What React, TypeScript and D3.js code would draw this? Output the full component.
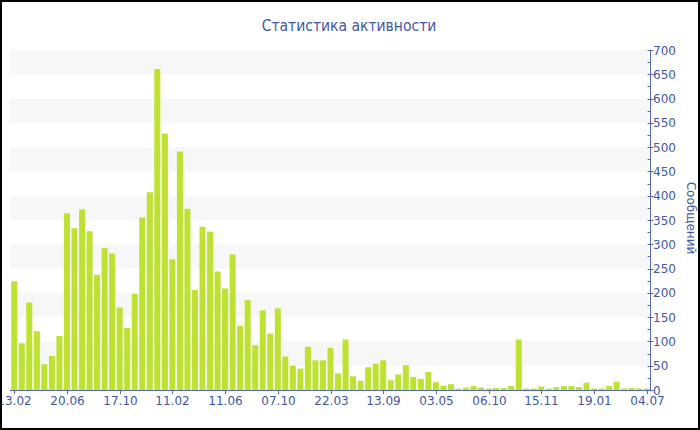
import React from "react";
import * as d3 from "d3";

const title = "Статистика активности";
const yAxisTitle = "Сообщений";

const tickLabels = ["13.02", "20.06", "17.10", "11.02", "11.06", "07.10", "22.03", "13.09", "03.05", "06.10", "15.11", "19.01", "04.07"];

const values = [
  224, 96, 180, 121, 53, 70, 111, 364, 333, 372,
  327, 237, 292, 281, 170, 128, 198, 355, 407, 661,
  528, 269, 491, 373, 206, 336, 326, 244, 209, 279,
  132, 185, 92, 164, 116, 168, 69, 50, 44, 89,
  61, 61, 87, 34, 104, 28, 19, 47, 54, 61,
  20, 32, 51, 27, 23, 37, 16, 9, 12, 3,
  5, 8, 5, 3, 4, 4, 8, 104, 3, 3,
  7, 3, 6, 8, 8, 6, 15, 3, 3, 8,
  17, 3, 4, 3, 3,
];

const categories = values.map((_, i) => i);
const tickEvery = 7;
const yMajorTicks = d3.range(0, 701, 50);
const yMinorTicks = d3.range(25, 700, 50);
const stripes = d3.range(50, 700, 100);

const W = 700;
const H = 430;
const left = 10.5;
const right = 650.5;
const top = 50;
const bottom = 390;

const textColor = "#4157a5";
const axisColor = "#5369b1";
const barColor = "#bde232";

export default function App() {
  const x = d3.scaleBand<number>().domain(categories).range([left, right]).paddingInner(0.2).paddingOuter(0.1);
  const y = d3.scaleLinear().domain([0, 700]).range([bottom, top]);
  const font = "'DejaVu Sans', Verdana, sans-serif";
  const titleFont = "'DejaVu Sans Condensed', 'Liberation Sans', sans-serif";

  return (
    <svg width={W} height={H} style={{ position: "absolute", left: 0, top: 0, display: "block" }}>
      <rect x={0} y={0} width={W} height={H} fill="#fff" />
      {stripes.map((s) => (
        <rect key={s} x={10} y={y(s + 50)} width={638} height={y(s) - y(s + 50)} fill="#f7f7f7" />
      ))}
      {values.map((v, i) => (
        <rect key={i} x={x(i)} y={y(v)} width={x.bandwidth()} height={bottom - y(v)} fill={barColor} />
      ))}
      {/* x axis */}
      <line x1={10} x2={right} y1={bottom + 0.5} y2={bottom + 0.5} stroke={axisColor} strokeWidth={1} />
      {tickLabels.map((t, k) => {
        const cx = Math.round((x(k * tickEvery) as number) + x.bandwidth() / 2) + 0.5;
        return (
          <g key={t + k}>
            <line x1={cx} x2={cx} y1={bottom} y2={bottom + 4} stroke={axisColor} />
            <text x={cx} y={bottom + 15} textAnchor="middle" fontFamily={font} fontSize={12} fill={textColor}>{t}</text>
          </g>
        );
      })}
      {/* y axis right */}
      <line x1={right} x2={right} y1={top} y2={bottom + 1} stroke={axisColor} strokeWidth={1} />
      {yMajorTicks.map((t) => (
        <g key={t}>
          <line x1={right - 3} x2={right + 3} y1={Math.round(y(t)) + 0.5} y2={Math.round(y(t)) + 0.5} stroke={axisColor} />
          <text x={right + 2.5} y={y(t) + 4.5} fontFamily={font} fontSize={12} fill={textColor}>{t}</text>
        </g>
      ))}
      {yMinorTicks.map((t) => (
        <line key={t} x1={right - 3} x2={right} y1={Math.round(y(t)) + 0.5} y2={Math.round(y(t)) + 0.5} stroke={axisColor} />
      ))}
      <text transform={`translate(687,218) rotate(90)`} textAnchor="middle" fontFamily={font} fontSize={12} fill={textColor}>{yAxisTitle}</text>
      <text x={349} y={31} textAnchor="middle" fontFamily={titleFont} fontSize={15.5} fill={textColor}>{title}</text>
      <rect x={1} y={1} width={W - 2} height={H - 2} fill="none" stroke="#000" strokeWidth={2} />
    </svg>
  );
}
